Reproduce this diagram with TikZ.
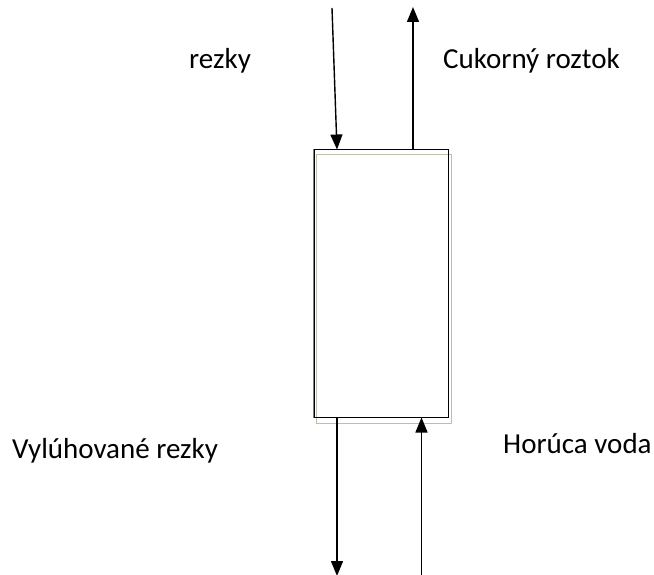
\documentclass[tikz,border=0pt]{standalone}
\usepackage{fontspec}
\setmainfont{Carlito}
\usetikzlibrary{arrows.meta}
\definecolor{shadegrey}{RGB}{190,190,175}
\begin{document}
\begin{tikzpicture}[x=1pt,y=-1pt,
  flow/.style={line width=1.4pt,-{Triangle[width=12pt,length=15pt]}},
  lbl/.style={font=\fontsize{29}{33}\selectfont,inner sep=0pt,anchor=base west},
  boxmain/.style={draw=black,line width=1pt,minimum width=134pt,minimum height=267pt,inner sep=0pt},
  boxshade/.style={draw=shadegrey,line width=1pt,minimum width=135pt,minimum height=268pt,inner sep=0pt}]
\useasboundingbox (0,0) rectangle (654,575);
\node[boxshade] (shade) at (384,289) {};
\node[boxmain] (box) at (381,283.5) {};
\draw[gray,line width=1pt] (box.north west) -- (box.south west);
\coordinate (inTop) at (332,8);
\coordinate (outTop) at (413,7);
\coordinate (outBot) at (337,576);
\coordinate (inBot) at (421.5,576);
\draw[flow] (inTop) -- (box.north west -| 337,0) ;
\draw[flow] (box.north west -| outTop) -- (outTop);
\draw[flow] (box.south west -| outBot) -- (outBot);
\draw[flow] (inBot) -- (box.south west -| inBot);
\node[lbl] (l1) at (189,69) {rezky};
\node[lbl] (l2) at (443,69) {Cukorný roztok};
\node[lbl] (l3) at (12,458) {Vylúhované rezky};
\node[lbl] (l4) at (503,453) {Horúca voda};
\end{tikzpicture}
\end{document}
